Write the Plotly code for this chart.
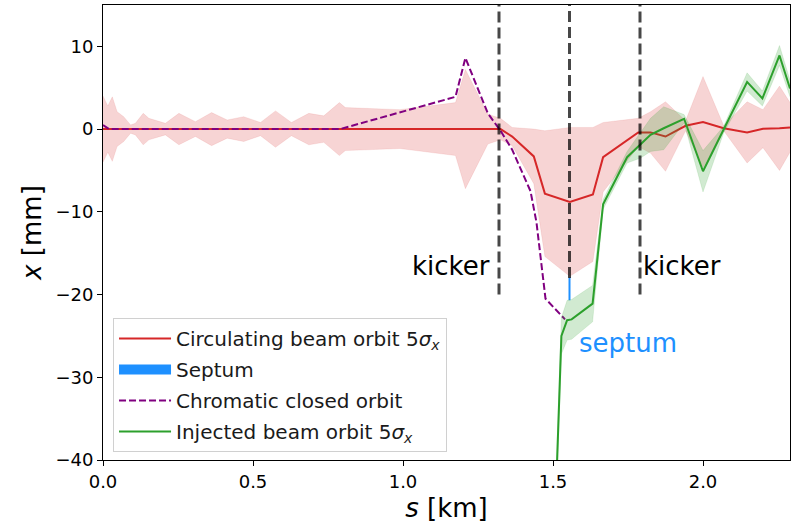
import plotly.graph_objects as go
import numpy as np

# ---------------- data ----------------
# circulating beam: orbit and 5-sigma half-width [mm] vs s [km]
s_circ = [0.0, 0.016, 0.031, 0.047, 0.069, 0.092, 0.108, 0.134, 0.153, 0.208, 0.253, 0.308,
          0.362, 0.414, 0.469, 0.525, 0.575, 0.628, 0.686, 0.736, 0.788, 0.808, 0.99, 1.125,
          1.175, 1.208, 1.283, 1.325, 1.364, 1.436, 1.473, 1.556, 1.633, 1.667, 1.784, 1.825,
          1.875, 1.942, 2.0, 2.069, 2.147, 2.2, 2.255, 2.29]
x_circ = [0.0, 0.0, 0.0, 0.0, 0.0, 0.0, 0.0, 0.0, 0.0, 0.0, 0.0, 0.0,
          0.0, 0.0, 0.0, 0.0, 0.0, 0.0, 0.0, 0.0, 0.0, 0.0, 0.0, 0.0,
          0.0, 0.0, 0.0, 0.0, -0.9, -3.3, -7.8, -8.8, -7.9, -3.4, -0.4, -0.4,
          -0.9, 0.4, 0.85, 0.1, -0.4, 0.05, 0.1, 0.2]
w_circ = [4.0, 2.8, 3.9, 2.1, 1.5, 0.5, 0.7, 1.9, 1.3, 0.7, 1.9, 0.9,
          2.0, 1.1, 1.5, 0.8, 2.2, 0.8, 1.9, 1.6, 3.2, 2.6, 2.35, 3.0,
          3.2, 7.2, 1.8, 1.3, 1.1, 3.3, 7.6, 9.0, 8.1, 4.2, 1.7, 2.5,
          4.2, 0.6, 5.5, 0.3, 3.7, 2.3, 5.1, 3.0]

# chromatic closed orbit
s_chrom = [0.0, 0.02, 0.79, 1.175, 1.208, 1.283, 1.325, 1.364, 1.425, 1.445, 1.475, 1.54]
x_chrom = [0.5, 0.0, 0.0, 3.9, 8.6, 1.9, -0.2, -2.5, -7.5, -11.3, -20.5, -23.0]

# injected beam: orbit and 5-sigma half-width
s_inj = [1.509, 1.528, 1.547, 1.562, 1.632, 1.667, 1.747, 1.792, 1.825, 1.869, 1.937,
         2.0, 2.069, 2.147, 2.198, 2.255, 2.29]
x_inj = [-45.0, -25.0, -23.1, -23.0, -21.1, -9.1, -3.4, -1.9, -0.7, 0.1, 1.25,
         -5.1, -0.05, 5.7, 3.7, 8.9, 4.9]
w_inj = [2.0, 2.2, 2.4, 2.4, 2.2, 0.6, 0.7, 1.6, 2.0, 2.6, 0.5,
         2.5, 0.4, 1.1, 0.9, 1.2, 1.0]

# septum and kickers
septum_s = 1.555
septum_x = [-18.0, -20.6]
kicker_s = [1.32, 1.555, 1.79]
kicker_ymin = [-20.0, -18.0, -20.0]
kicker_ymax = 15.0

x_ticks = [0.0, 0.5, 1.0, 1.5, 2.0]
y_ticks = [10, 0, -10, -20, -30, -40]

# ---------------- figure ----------------
RED = "#d62728"
GREEN = "#2ca02c"
PURPLE = "#800080"
BLUE = "#1e90ff"
FONT = "DejaVu Sans"

xc = np.array(x_circ); wc = np.array(w_circ)
xi = np.array(x_inj); wi = np.array(w_inj)

fig = go.Figure()

# circulating beam envelope
fig.add_trace(go.Scatter(x=s_circ, y=xc - wc, mode="lines", line=dict(width=0.8, color="rgba(214,39,40,0.12)"),
                         showlegend=False, hoverinfo="skip"))
fig.add_trace(go.Scatter(x=s_circ, y=xc + wc, mode="lines", line=dict(width=0.8, color="rgba(214,39,40,0.12)"),
                         fill="tonexty", fillcolor="rgba(214,39,40,0.2)", showlegend=False, hoverinfo="skip"))
fig.add_trace(go.Scatter(x=s_circ, y=x_circ, mode="lines", line=dict(color=RED, width=2),
                         name="Circulating beam orbit 5<i>σ</i><sub><i>x</i></sub>", legendgroup="a"))

# septum (drawn mark) and its legend entry
fig.add_trace(go.Scatter(x=[septum_s - 0.0008, septum_s + 0.0008, septum_s + 0.0008, septum_s - 0.0008, septum_s - 0.0008],
                         y=[septum_x[0], septum_x[0], septum_x[1], septum_x[1], septum_x[0]],
                         mode="lines", fill="toself", fillcolor=BLUE, line=dict(color=BLUE, width=1.5),
                         showlegend=False, hoverinfo="skip"))
fig.add_trace(go.Scatter(x=[None], y=[None], mode="lines", line=dict(color=BLUE, width=15),
                         name="Septum", legendgroup="b"))

# chromatic closed orbit
fig.add_trace(go.Scatter(x=s_chrom, y=x_chrom, mode="lines", line=dict(color=PURPLE, width=2, dash="7px,3px"),
                         name="Chromatic closed orbit", legendgroup="c"))

# injected beam envelope
fig.add_trace(go.Scatter(x=s_inj, y=xi - wi, mode="lines", line=dict(width=0.8, color="rgba(44,160,44,0.15)"),
                         showlegend=False, hoverinfo="skip"))
fig.add_trace(go.Scatter(x=s_inj, y=xi + wi, mode="lines", line=dict(width=0.8, color="rgba(44,160,44,0.15)"),
                         fill="tonexty", fillcolor="rgba(44,160,44,0.22)", showlegend=False, hoverinfo="skip"))
fig.add_trace(go.Scatter(x=s_inj, y=x_inj, mode="lines", line=dict(color=GREEN, width=2),
                         name="Injected beam orbit 5<i>σ</i><sub><i>x</i></sub>", legendgroup="d"))

# kicker lines
for ks, ymin in zip(kicker_s, kicker_ymin):
    fig.add_shape(type="line", xref="x", yref="y", x0=ks, x1=ks, y0=ymin, y1=kicker_ymax,
                  line=dict(color="rgba(0,0,0,0.72)", width=3, dash="11px,5px"), layer="above")

fig.add_annotation(x=1.298, y=-16.5, xref="x", yref="y", text="kicker", showarrow=False,
                   xanchor="right", yanchor="middle", font=dict(size=26, color="black", family=FONT))
fig.add_annotation(x=1.794, y=-16.5, xref="x", yref="y", text="kicker", showarrow=False,
                   xanchor="left", yanchor="middle", font=dict(size=26, color="black", family=FONT))
fig.add_annotation(x=1.579, y=-25.8, xref="x", yref="y", text="septum", showarrow=False,
                   xanchor="left", yanchor="middle", font=dict(size=26, color=BLUE, family=FONT))

fig.update_layout(
    width=792, height=525,
    margin=dict(l=103, r=2, t=5, b=65),
    plot_bgcolor="white", paper_bgcolor="white",
    font=dict(family=FONT, size=18, color="black"),
    legend=dict(x=0.0146, y=0.0176, xanchor="left", yanchor="bottom",
                bgcolor="rgba(255,255,255,0.85)", bordercolor="#d0d0d0", borderwidth=1,
                font=dict(size=20, family=FONT, color="#1a1a1a"), itemwidth=52,
                traceorder="grouped", tracegroupgap=2),
    showlegend=True,
)
fig.update_xaxes(range=[0, 2.29], tickvals=x_ticks, ticktext=[f"{v:.1f}" for v in x_ticks],
                 showgrid=False, zeroline=False, showline=True, linecolor="black", linewidth=1, mirror=True,
                 ticks="outside", ticklen=5, tickcolor="black", tickfont=dict(size=18),
                 title=dict(text="<i>s</i> [km]", font=dict(size=26), standoff=8))
fig.update_yaxes(range=[-40, 15], tickvals=y_ticks,
                 showgrid=False, zeroline=False, showline=True, linecolor="black", linewidth=1, mirror=True,
                 ticks="outside", ticklen=5, tickcolor="black", tickfont=dict(size=18),
                 title=dict(text="<i>x</i> [mm]", font=dict(size=26), standoff=6))

fig.write_html("out.html")
